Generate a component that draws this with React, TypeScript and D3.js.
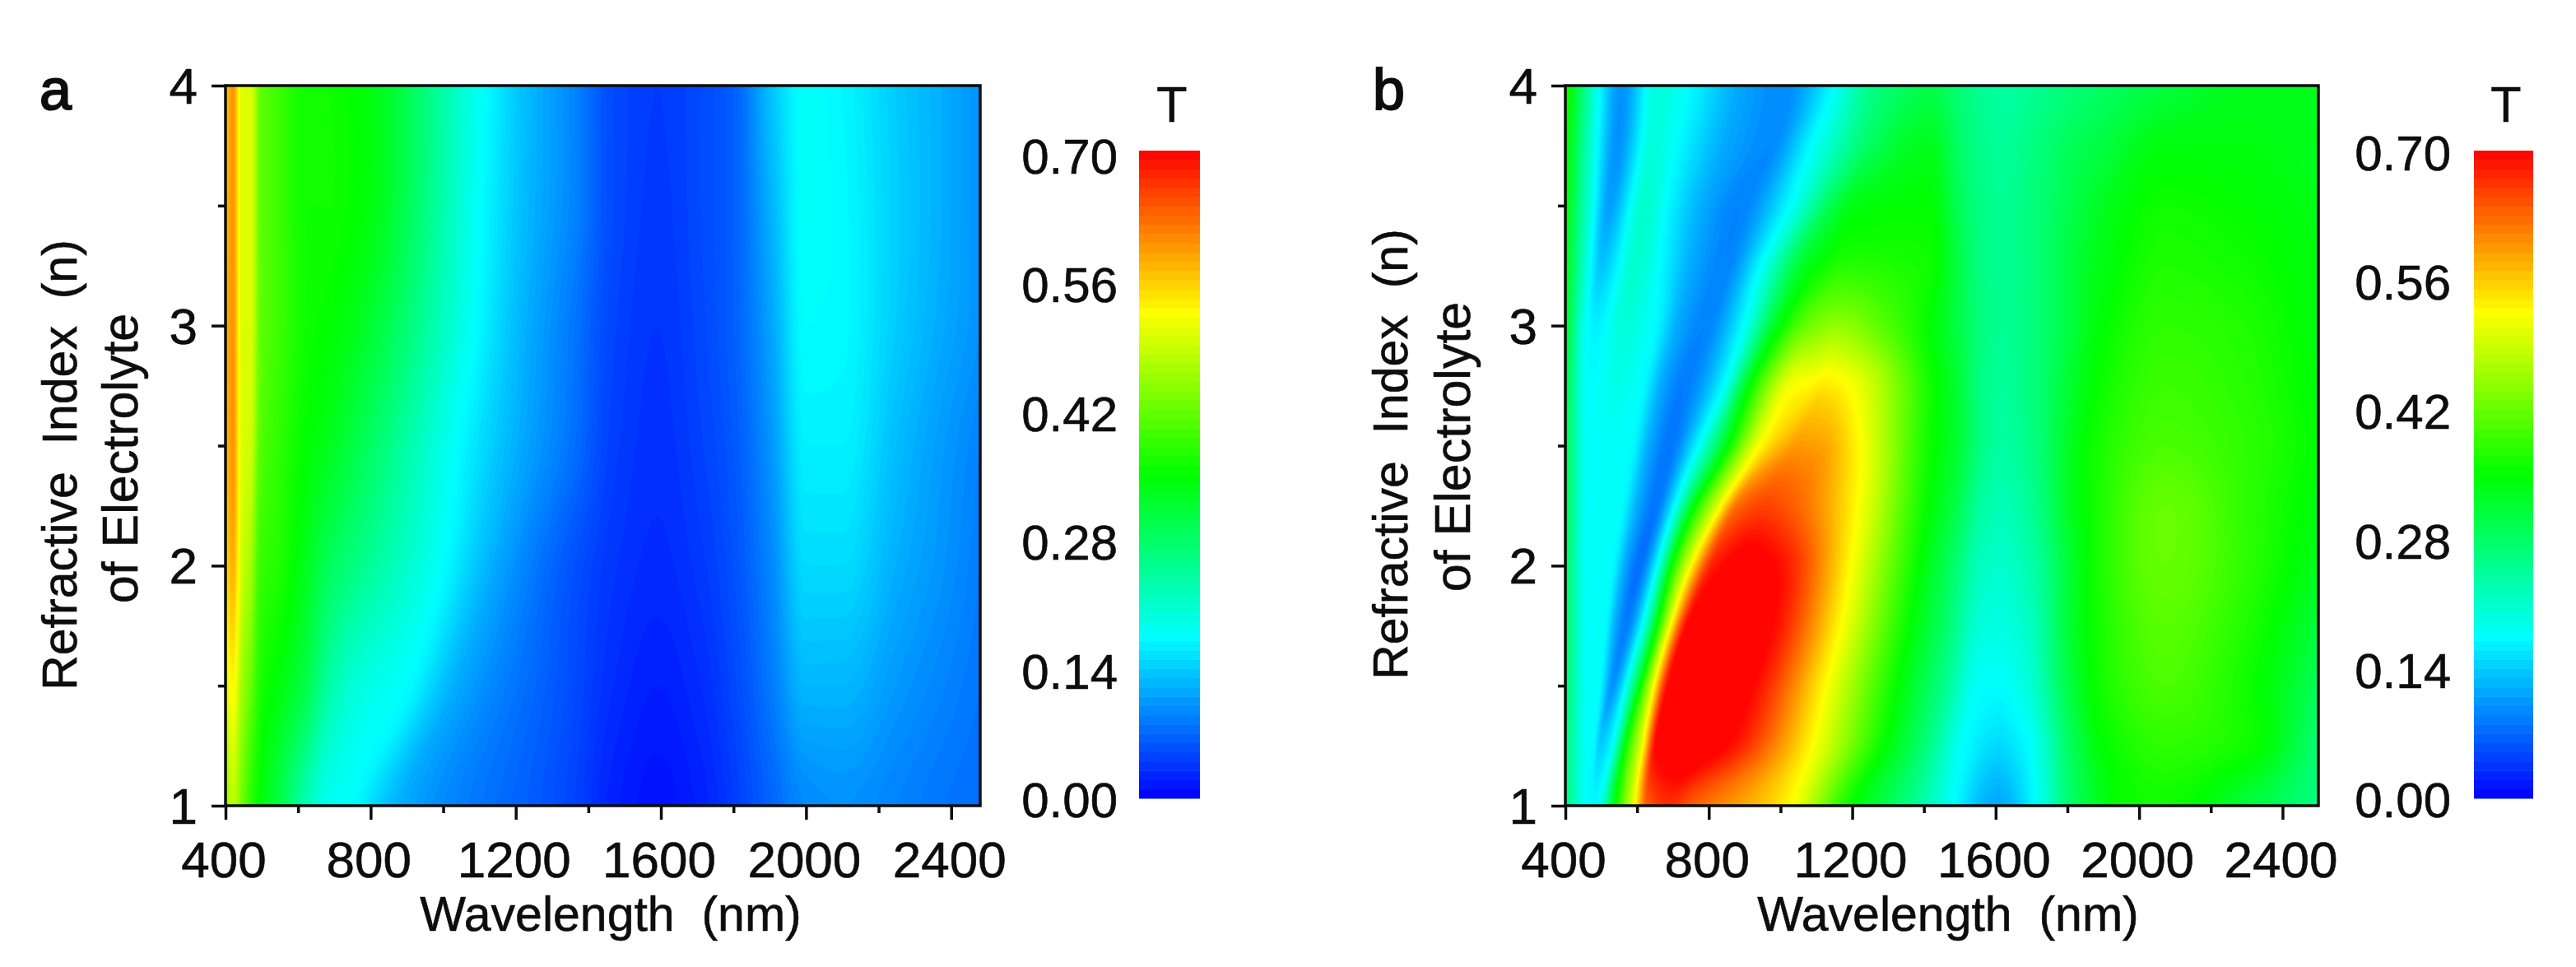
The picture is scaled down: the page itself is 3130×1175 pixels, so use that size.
import { useEffect, useRef } from "react";
import * as d3 from "d3";

// colour scale of both panels
const colorDomain = [0, 0.175, 0.35, 0.525, 0.7];
const colorRange = ["#0000ff", "#00ffff", "#00ff00", "#ffff00", "#ff0000"];
const legendTicks = [0, 0.14, 0.28, 0.42, 0.56, 0.7];
const xTicks = [400, 800, 1200, 1600, 2000, 2400];
const xMinorTicks = [600, 1000, 1400, 1800, 2200];
const yTicks = [1, 2, 3, 4];
const yMinorTicks = [1.5, 2.5, 3.5];
const yDomain = [1, 4];

// panel a, read along lines of constant n
const aRows = [1, 1.5, 2, 2.5, 3, 3.5, 4];
const aWavelengths: (number | number[])[] = [
  400, 420, 445, 470, 495, 550, 620, 683, 760,
  [775, 900, 1000, 1040, 1090, 1105, 1115],
  [900, 1030, 1120, 1170, 1200, 1220, 1227],
  1363, 1470, 1590, 1710, 1800, 1907, 2000, 2100, 2247, 2383, 2480,
];
const aValues = [
  [0.44, 0.5, 0.54, 0.56, 0.57, 0.56, 0.55],
  [0.48, 0.53, 0.58, 0.6, 0.6, 0.6, 0.6],
  [0.43, 0.46, 0.49, 0.5, 0.5, 0.5, 0.5],
  [0.38, 0.42, 0.46, 0.49, 0.5, 0.5, 0.5],
  [0.35, 0.37, 0.39, 0.41, 0.42, 0.42, 0.42],
  [0.3, 0.34, 0.37, 0.38, 0.39, 0.39, 0.39],
  [0.23, 0.3, 0.33, 0.35, 0.36, 0.36, 0.36],
  [0.185, 0.24, 0.29, 0.33, 0.35, 0.36, 0.36],
  [0.175, 0.2, 0.26, 0.3, 0.33, 0.35, 0.35],
  [0.165, 0.175, 0.175, 0.175, 0.175, 0.175, 0.175],
  [0.115, 0.12, 0.125, 0.13, 0.13, 0.13, 0.13],
  [0.045, 0.05, 0.055, 0.075, 0.08, 0.09, 0.09],
  [0.022, 0.03, 0.036, 0.042, 0.046, 0.05, 0.05],
  [0.012, 0.02, 0.028, 0.032, 0.035, 0.038, 0.04],
  [0.022, 0.03, 0.038, 0.044, 0.048, 0.05, 0.05],
  [0.04, 0.048, 0.055, 0.06, 0.065, 0.065, 0.065],
  [0.07, 0.085, 0.095, 0.105, 0.115, 0.125, 0.135],
  [0.095, 0.125, 0.15, 0.165, 0.175, 0.178, 0.178],
  [0.1, 0.125, 0.15, 0.165, 0.172, 0.172, 0.17],
  [0.09, 0.105, 0.12, 0.13, 0.14, 0.142, 0.14],
  [0.08, 0.09, 0.1, 0.105, 0.115, 0.118, 0.118],
  [0.075, 0.08, 0.085, 0.09, 0.1, 0.1, 0.1],
];

// panel b, the ridges and valleys move with n
const bRows = [1, 1.25, 1.5, 1.75, 2, 2.25, 2.5, 2.75, 3, 3.25, 3.5, 3.75, 4];
const bWavelengths: (number | number[])[] = [
  400,
  [454, 459, 460, 460, 460, 462, 464, 460, 460, 469, 479, 487, 494],
  [457, 464, 469, 474, 477, 479, 483, 479, 483, 498, 521, 544, 555],
  [462, 470, 479, 487, 494, 502, 517, 536, 563, 597, 620, 643, 658],
  [468, 479, 494, 510, 529, 555, 582, 613, 647, 670, 696, 731, 765],
  [473, 486, 511, 538, 567, 603, 635, 670, 717, 757, 791, 851, 887],
  [479, 494, 529, 567, 605, 651, 689, 727, 788, 845, 887, 971, 1009],
  [491, 529, 567, 613, 655, 704, 769, 841, 895, 944, 1024, 1085, 1146],
  [540, 567, 609, 655, 696, 757, 849, 910, 986, 1070, 1146, 1222, 1222],
  [594, 616, 647, 693, 750, 834, 942, 1035, 1070, 1116, 1161, 1230, 1237],
  [628, 654, 689, 742, 811, 879, 994, 1085, 1116, 1138, 1176, 1237, 1253],
  [689, 742, 803, 856, 910, 956, 1047, 1119, 1146, 1161, 1192, 1245, 1268],
  [750, 841, 917, 971, 1001, 1024, 1108, 1150, 1192, 1207, 1222, 1283, 1298],
  [1032, 1089, 1127, 1169, 1196, 1215, 1222, 1198, 1260, 1298, 1336, 1336, 1336],
  [1192, 1276, 1314, 1348, 1375, 1398, 1413, 1420, 1413, 1413, 1413, 1413, 1413],
  [1375, 1400, 1462, 1470, 1480, 1490, 1500, 1500, 1500, 1500, 1500, 1500, 1500],
  [1485, 1516, 1550, 1560, 1560, 1560, 1560, 1560, 1560, 1560, 1560, 1560, 1560],
  [1605, 1607, 1610, 1615, 1615, 1620, 1620, 1620, 1620, 1620, 1620, 1620, 1620],
  [1710, 1691, 1680, 1690, 1700, 1700, 1700, 1700, 1700, 1700, 1700, 1700, 1700],
  1813,
  [1980, 1904, 1889, 1880, 1874, 1874, 1874, 1874, 1874, 1874, 1874, 1874, 1874],
  2072,
  2300,
  2500,
];
const bValues = [
  [0.27, 0.27, 0.28, 0.29, 0.29, 0.3, 0.3, 0.31, 0.33, 0.34, 0.35, 0.36, 0.38],
  [0.178, 0.178, 0.178, 0.178, 0.178, 0.178, 0.178, 0.178, 0.178, 0.178, 0.178, 0.178, 0.178],
  [0.175, 0.175, 0.175, 0.175, 0.175, 0.175, 0.175, 0.175, 0.165, 0.135, 0.11, 0.1, 0.1],
  [0.175, 0.175, 0.176, 0.178, 0.18, 0.18, 0.18, 0.19, 0.2, 0.21, 0.21, 0.2, 0.2],
  [0.175, 0.175, 0.175, 0.175, 0.175, 0.175, 0.175, 0.175, 0.175, 0.17, 0.165, 0.165, 0.165],
  [0.172, 0.16, 0.14, 0.12, 0.115, 0.115, 0.115, 0.115, 0.115, 0.115, 0.115, 0.115, 0.115],
  [0.17, 0.14, 0.1, 0.085, 0.075, 0.08, 0.08, 0.085, 0.09, 0.09, 0.09, 0.095, 0.095],
  [0.175, 0.175, 0.175, 0.175, 0.175, 0.175, 0.175, 0.175, 0.175, 0.175, 0.175, 0.175, 0.175],
  [0.35, 0.35, 0.35, 0.35, 0.35, 0.34, 0.34, 0.34, 0.33, 0.33, 0.3, 0.27, 0.24],
  [0.525, 0.525, 0.525, 0.525, 0.525, 0.525, 0.525, 0.52, 0.42, 0.355, 0.31, 0.275, 0.25],
  [0.64, 0.7, 0.7, 0.7, 0.68, 0.625, 0.57, 0.53, 0.44, 0.365, 0.325, 0.28, 0.26],
  [0.67, 0.73, 0.74, 0.74, 0.715, 0.655, 0.595, 0.54, 0.45, 0.372, 0.335, 0.285, 0.265],
  [0.64, 0.7, 0.7, 0.7, 0.69, 0.64, 0.59, 0.535, 0.445, 0.375, 0.34, 0.3, 0.275],
  [0.525, 0.525, 0.525, 0.525, 0.525, 0.525, 0.525, 0.52, 0.42, 0.37, 0.35, 0.32, 0.285],
  [0.36, 0.36, 0.36, 0.36, 0.36, 0.36, 0.36, 0.36, 0.35, 0.36, 0.35, 0.33, 0.3],
  [0.25, 0.27, 0.25, 0.27, 0.28, 0.3, 0.31, 0.31, 0.3, 0.3, 0.29, 0.28, 0.27],
  [0.175, 0.175, 0.18, 0.2, 0.22, 0.24, 0.26, 0.26, 0.265, 0.26, 0.26, 0.255, 0.25],
  [0.115, 0.15, 0.175, 0.195, 0.21, 0.225, 0.24, 0.245, 0.25, 0.25, 0.25, 0.245, 0.24],
  [0.175, 0.175, 0.195, 0.215, 0.235, 0.25, 0.26, 0.265, 0.265, 0.265, 0.265, 0.26, 0.25],
  [0.28, 0.29, 0.31, 0.32, 0.32, 0.33, 0.33, 0.32, 0.31, 0.31, 0.3, 0.29, 0.27],
  [0.36, 0.35, 0.36, 0.36, 0.36, 0.36, 0.36, 0.35, 0.34, 0.33, 0.32, 0.3, 0.28],
  [0.36, 0.38, 0.4, 0.41, 0.42, 0.42, 0.4, 0.39, 0.38, 0.37, 0.36, 0.34, 0.31],
  [0.31, 0.36, 0.36, 0.37, 0.38, 0.38, 0.38, 0.375, 0.37, 0.36, 0.35, 0.34, 0.33],
  [0.26, 0.27, 0.29, 0.31, 0.33, 0.34, 0.35, 0.345, 0.34, 0.34, 0.335, 0.33, 0.33],
];

const FONT = "'Liberation Sans', Arial, sans-serif";
const INK = "#0d0d0d";

const catmull = (row: number[], t: number) => {
  const i = Math.min(Math.floor(t), row.length - 2);
  const u = t - i;
  const p0 = row[Math.max(i - 1, 0)];
  const p1 = row[i];
  const p2 = row[i + 1];
  const p3 = row[Math.min(i + 2, row.length - 1)];
  return (
    0.5 *
    (2 * p1 +
      (p2 - p0) * u +
      (2 * p0 - 5 * p1 + 4 * p2 - p3) * u * u +
      (3 * p1 - p0 - 3 * p2 + p3) * u * u * u)
  );
};

// monotone cubic through the features of one row
const monotone = (xs: number[], ys: number[], queries: number[]) => {
  const n = xs.length;
  const slopes = d3.range(n - 1).map((i) => (ys[i + 1] - ys[i]) / (xs[i + 1] - xs[i]));
  const tangents = d3.range(n).map((i) => {
    if (i === 0) return slopes[0];
    if (i === n - 1) return slopes[n - 2];
    if (slopes[i - 1] * slopes[i] <= 0) return 0;
    const h0 = xs[i] - xs[i - 1];
    const h1 = xs[i + 1] - xs[i];
    const w0 = 2 * h1 + h0;
    const w1 = h1 + 2 * h0;
    return (w0 + w1) / (w0 / slopes[i - 1] + w1 / slopes[i]);
  });
  let k = 0;
  return queries.map((q) => {
    while (k < n - 2 && q > xs[k + 1]) k++;
    const h = xs[k + 1] - xs[k];
    const u = Math.max(0, Math.min(1, (q - xs[k]) / h));
    const u2 = u * u;
    const u3 = u2 * u;
    return (
      (2 * u3 - 3 * u2 + 1) * ys[k] +
      (u3 - 2 * u2 + u) * h * tangents[k] +
      (3 * u2 - 2 * u3) * ys[k + 1] +
      (u3 - u2) * h * tangents[k + 1]
    );
  });
};

const buildField = (rows, wavelengths, values, xDomain, nx, ny) => {
  const wlGrid = d3.range(nx).map((i) => xDomain[0] + ((xDomain[1] - xDomain[0]) * i) / (nx - 1));
  const field = new Float64Array(nx * ny);
  for (let j = 0; j < ny; j++) {
    const t = ((rows.length - 1) * j) / (ny - 1);
    const xs: number[] = [];
    const ys: number[] = [];
    wavelengths.forEach((w, f) => {
      const wl = typeof w === "number" ? w : catmull(w, t);
      xs.push(f === 0 ? wl : Math.max(wl, xs[f - 1] + 1));
      ys.push(catmull(values[f], t));
    });
    monotone(xs, ys, wlGrid).forEach((v, i) => {
      field[j * nx + i] = v;
    });
  }
  return field;
};

const Panel = ({ g, cfg, color }) => {
  const { left, right, top, bottom, rows, wavelengths, values, id, xDomain } = cfg;
  const x = d3.scaleLinear().domain(xDomain).range([left, right]);
  const y = d3.scaleLinear().domain(yDomain).range([bottom, top]);

  const nx = 420;
  const ny = 220;
  const field = buildField(rows, wavelengths, values, xDomain, nx, ny);
  const thresholds = d3.range(0, 0.7, 0.005);
  const contours = d3.contours().size([nx, ny]).smooth(true).thresholds(thresholds)(field);
  const project = d3.geoTransform({
    point(cx, cy) {
      const wl = xDomain[0] + ((xDomain[1] - xDomain[0]) * (cx - 0.5)) / (nx - 1);
      const n = yDomain[0] + ((yDomain[1] - yDomain[0]) * (cy - 0.5)) / (ny - 1);
      this.stream.point(x(wl), y(n));
    },
  });
  const path = d3.geoPath(project);

  g.append("clipPath")
    .attr("id", id)
    .append("rect")
    .attr("x", left)
    .attr("y", top)
    .attr("width", right - left)
    .attr("height", bottom - top);

  const map = g.append("g").attr("clip-path", `url(#${id})`);
  map.selectAll("path")
    .data(contours)
    .enter()
    .append("path")
    .attr("d", path)
    .attr("fill", (d) => color(d.value + 0.0025));

  // axes, ticks go outwards
  const xAxis = g.append("g").attr("transform", `translate(0,${bottom})`);
  xAxis.call(d3.axisBottom(x).tickValues(xTicks).tickSize(17).tickFormat(() => ""));
  xAxis.call((s) => s.selectAll(".domain").remove());
  const xMinor = g.append("g").attr("transform", `translate(0,${bottom})`);
  xMinor.call(d3.axisBottom(x).tickValues(xMinorTicks).tickSize(9).tickFormat(() => ""));
  xMinor.call((s) => s.selectAll(".domain").remove());
  const yAxis = g.append("g").attr("transform", `translate(${left},0)`);
  yAxis.call(d3.axisLeft(y).tickValues(yTicks).tickSize(17).tickFormat(() => ""));
  yAxis.call((s) => s.selectAll(".domain").remove());
  const yMinor = g.append("g").attr("transform", `translate(${left},0)`);
  yMinor.call(d3.axisLeft(y).tickValues(yMinorTicks).tickSize(9).tickFormat(() => ""));
  yMinor.call((s) => s.selectAll(".domain").remove());
  g.selectAll(".tick line").attr("stroke", INK).attr("stroke-width", 3.5);

  g.append("rect")
    .attr("x", left)
    .attr("y", top)
    .attr("width", right - left)
    .attr("height", bottom - top)
    .attr("fill", "none")
    .attr("stroke", INK)
    .attr("stroke-width", 3.5);

  const label = (text, tx, ty, size, anchor = "middle", rotate = false) => {
    const t = g.append("text")
      .attr("text-anchor", anchor)
      .attr("font-family", FONT)
      .attr("font-size", size)
      .attr("fill", INK)
      .attr("stroke", INK)
      .attr("stroke-width", 0.6)
      .style("white-space", "pre")
      .text(text);
    if (rotate) t.attr("transform", `translate(${tx},${ty}) rotate(-90)`);
    else t.attr("x", tx).attr("y", ty);
    return t;
  };

  xTicks.forEach((v) => label(String(v), x(v) - 2, bottom + 87, 62));
  yTicks.forEach((v) => label(String(v), cfg.yLabelX, y(v) + 22, 62, "end"));
  label("Wavelength  (nm)", cfg.xTitleX, 1131, 59);
  label("Refractive  Index  (n)", cfg.yTitleX[0], cfg.yTitleY[0], 59, "middle", true);
  label("of Electrolyte", cfg.yTitleX[1], cfg.yTitleY[1], 61, "middle", true);
  label(cfg.letter, cfg.letterX, 133, 70, "start").attr("stroke-width", 2);

  // colour bar
  const barY = d3.scaleLinear().domain([0, 0.7]).range([cfg.barBottom, cfg.barTop]);
  const labelY = d3.scaleLinear().domain([0, 0.7]).range(cfg.legendLabelRange);
  const levels = d3.range(0, 0.7, 0.01);
  g.append("g")
    .selectAll("rect")
    .data(levels)
    .enter()
    .append("rect")
    .attr("x", cfg.barLeft)
    .attr("width", cfg.barWidth)
    .attr("y", (d) => barY(d + 0.01))
    .attr("height", (d) => barY(d) - barY(d + 0.01) + 0.5)
    .attr("fill", (d) => color(d + 0.005));
  legendTicks.forEach((v) => label(v.toFixed(2), cfg.legendLabelX, labelY(v) + 21, 60, "end"));
  label("T", cfg.barLeft + cfg.barWidth / 2 + 3, 148, 61);
};

const panelA = {
  id: "clip-a", letter: "a", letterX: 48, xDomain: [400, 2480],
  left: 274, right: 1191, top: 104, bottom: 979,
  rows: aRows, wavelengths: aWavelengths, values: aValues,
  yLabelX: 240, xTitleX: 742, yTitleX: [93, 167], yTitleY: [565, 557],
  barLeft: 1384, barWidth: 74, barTop: 183, barBottom: 970,
  legendLabelX: 1358, legendLabelRange: [972, 190],
};
const panelB = {
  id: "clip-b", letter: "b", letterX: 1668, xDomain: [400, 2500],
  left: 1902, right: 2817, top: 104, bottom: 979,
  rows: bRows, wavelengths: bWavelengths, values: bValues,
  yLabelX: 1868, xTitleX: 2367, yTitleX: [1710, 1786], yTitleY: [552, 543],
  barLeft: 3006, barWidth: 72, barTop: 183, barBottom: 970,
  legendLabelX: 2978, legendLabelRange: [972, 186],
};

export default function App() {
  const svgRef = useRef(null);

  useEffect(() => {
    const svg = d3.select(svgRef.current);
    svg.selectAll("*").remove();
    const color = d3.scaleLinear().domain(colorDomain).range(colorRange).clamp(true);
    Panel({ g: svg.append("g"), cfg: panelA, color });
    Panel({ g: svg.append("g"), cfg: panelB, color });
  }, []);

  return (
    <svg
      ref={svgRef}
      width={3130}
      height={1175}
      style={{ position: "absolute", left: 0, top: 0, background: "#fff" }}
    />
  );
}
